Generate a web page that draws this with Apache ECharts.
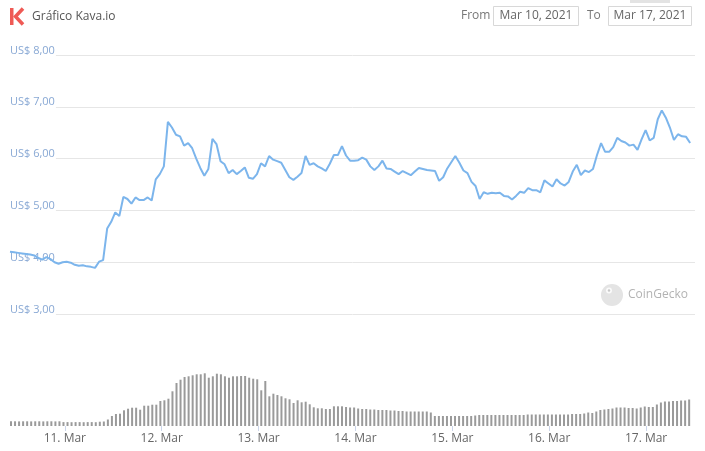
<!DOCTYPE html>
<html><head><meta charset="utf-8">
<script src="https://cdn.jsdelivr.net/npm/echarts@6/dist/echarts.min.js"></script>
<style>html,body{margin:0;padding:0;background:#fff}#c{width:705px;height:451px}</style>
</head><body><div id="c"></div>
<script>
const chartTitle = 'Gráfico Kava.io';
const fromLabel = 'From';
const toLabel = 'To';
const fromDate = 'Mar 10, 2021';
const toDate = 'Mar 17, 2021';
const watermark = 'CoinGecko';

// x-axis day tick labels (day of month -> label)
const dayLabels = {10:'10. Mar', 11:'11. Mar', 12:'12. Mar', 13:'13. Mar', 14:'14. Mar', 15:'15. Mar', 16:'16. Mar', 17:'17. Mar', 18:'18. Mar'};
// y-axis tick labels
const priceTickLabels = {3:'US$ 3,00', 4:'US$ 4,00', 5:'US$ 5,00', 6:'US$ 6,00', 7:'US$ 7,00', 8:'US$ 8,00'};

// hourly samples starting Mar 10, 2021 10:40
const startTime = new Date(2021, 2, 10, 10, 40).getTime();
const HOUR = 3600000;

// price in USD (hourly)
const price = [
4.20,4.19,4.18,4.17,4.16,4.15,4.13,4.08,4.05,4.10,
4.06,4.00,3.97,4.00,4.01,3.99,3.95,3.93,3.94,3.92,
3.91,3.89,4.01,4.04,4.65,4.78,4.96,4.89,5.26,5.22,
5.13,5.25,5.20,5.20,5.25,5.19,5.60,5.70,5.85,6.71,
6.60,6.46,6.43,6.25,6.30,6.20,6.00,5.82,5.67,5.80,
6.38,6.28,5.95,5.89,5.72,5.78,5.70,5.76,5.83,5.63,
5.61,5.70,5.91,5.85,6.05,5.98,5.95,5.92,5.78,5.64,
5.59,5.65,5.72,6.05,5.88,5.91,5.85,5.81,5.76,5.90,
6.07,6.07,6.24,6.06,5.96,5.96,5.97,6.02,5.98,5.85,
5.78,5.85,5.96,5.81,5.80,5.75,5.70,5.76,5.72,5.68,
5.75,5.82,5.80,5.78,5.77,5.76,5.57,5.64,5.81,5.93,
6.05,5.92,5.77,5.72,5.55,5.47,5.22,5.35,5.32,5.34,
5.33,5.34,5.28,5.27,5.21,5.28,5.36,5.34,5.43,5.39,
5.39,5.35,5.58,5.52,5.46,5.60,5.52,5.48,5.55,5.75,
5.88,5.68,5.77,5.74,5.80,6.07,6.30,6.13,6.13,6.22,
6.40,6.34,6.31,6.25,6.27,6.17,6.37,6.55,6.35,6.40,
6.76,6.93,6.79,6.60,6.36,6.47,6.43,6.42,6.30
];

// volume (relative units, hourly)
const volume = [
4.7,4.7,4.6,4.7,4.7,4.6,4.7,4.7,4.6,4.7,4.7,4.6,4.7,
3.9,3.9,3.8,3.9,3.9,3.8,3.9,3.9,3.8,
4.3,4.5,6.5,10,12,12.3,15.7,17.3,18.3,18.3,
16.3,20.3,20.3,21.3,21.3,25,25.7,27.3,34.7,43,
46.3,49,49.7,50.7,51.7,51.7,52.7,48.3,49.7,52.3,
51.7,49.7,48.3,49.7,49.7,50,50,48.3,47.3,46.7,
35.7,45,29.7,32.3,31,29.7,27.7,26.7,23,25.7,
23.7,24.3,21.7,18.7,17.7,17.7,17,17,19.7,19.7,
19.7,19,18.5,18.5,17.5,17,17,16.5,16.5,16,
16,16,15.5,15.5,15,15,
14.5,14.5,14.5,14.5,14.5,14.5,
13.5,
10,10,10,10,10,10,10,10,10,10,
10.5,
11,11,11,11,11,11,11,11,11,11,11,11,
11.5,11.5,11.5,11.5,11.5,11.5,11.5,11.5,11.5,11.5,11.5,
12,12,12,
12.5,13.5,13,14.5,16,16.5,17,17.5,18.5,18.5,
18.5,18,18,17.5,18.5,19.5,19,19,21.5,23.5,
24.5,24.5,25,25,25.5,25.5,26.5
];

const times = price.map((_, i) => startTime + i * HOUR);
const axisMin = startTime;
const axisMax = startTime + 169.2 * HOUR;

const FONT = '"Open Sans", "Noto Sans", sans-serif';
const chart = echarts.init(document.getElementById('c'), null, {renderer: 'canvas'});

chart.setOption({
  animation: false,
  backgroundColor: '#fff',
  textStyle: {fontFamily: FONT},
  grid: [
    {left: 10, right: 10, top: 55, height: 259},
    {left: 10, right: 10, top: 366, height: 60}
  ],
  xAxis: [
    {type: 'time', gridIndex: 0, min: axisMin, max: axisMax, show: false,
     minInterval: 24 * HOUR, maxInterval: 24 * HOUR},
    {type: 'time', gridIndex: 1, min: axisMin, max: axisMax,
     minInterval: 24 * HOUR, maxInterval: 24 * HOUR,
     axisLine: {show: false},
     axisTick: {show: true, length: 5, lineStyle: {color: '#ccd6eb'}},
     splitLine: {show: false},
     axisLabel: {show: true, color: '#666', fontSize: 12, fontFamily: FONT, margin: 7,
       showMinLabel: false, showMaxLabel: false,
       formatter: v => dayLabels[new Date(v).getDate()] || ''}}
  ],
  yAxis: [
    {type: 'value', gridIndex: 0, min: 3, max: 8, interval: 1, position: 'left',
     axisLine: {show: false}, axisTick: {show: false},
     splitLine: {show: true, lineStyle: {color: '#e6e6e6', width: 1}},
     axisLabel: {inside: true, margin: 0, align: 'left', verticalAlign: 'middle',
       backgroundColor: '#fff', padding: [0, 1, 0, 0],
       rich: {
         t: {color: '#88a8d4', fontSize: 11, fontFamily: FONT, lineHeight: 12},
         s: {fontSize: 1, lineHeight: 9}
       },
       formatter: v => '{t|' + (priceTickLabels[v] || '') + '}\n{s| }'}},
    {type: 'value', gridIndex: 1, min: 0, max: 60, show: false}
  ],
  series: [
    {type: 'bar', xAxisIndex: 1, yAxisIndex: 1, barWidth: 2,
     itemStyle: {color: '#9a9a9a'},
     data: times.map((t, i) => [t, volume[i]])},
    {type: 'line', xAxisIndex: 0, yAxisIndex: 0, showSymbol: false, z: 5,
     lineStyle: {color: '#7cb5ec', width: 2}, itemStyle: {color: '#7cb5ec'},
     data: times.map((t, i) => [t, price[i]])}
  ],
  graphic: [
    {type: 'rect', shape: {x: 10, y: 8, width: 3.5, height: 17}, style: {fill: '#ef5a55'}},
    {type: 'polyline', shape: {points: [[23, 8.5], [15.5, 16.5], [23, 24.5]]},
     style: {stroke: '#ef5a55', lineWidth: 3.5, fill: null}},
    {type: 'text', x: 32, y: 17, style: {text: chartTitle, font: '12px ' + FONT, fill: '#555', verticalAlign: 'middle'}},
    {type: 'rect', shape: {x: 630, y: 0, width: 40, height: 3}, style: {fill: '#e3e3e3'}},
    {type: 'text', x: 461, y: 16, style: {text: fromLabel, font: '12px ' + FONT, fill: '#777', verticalAlign: 'middle'}},
    {type: 'rect', shape: {x: 493.5, y: 6.5, width: 85, height: 19}, style: {fill: '#fff', stroke: '#d8d8d8', lineWidth: 1}},
    {type: 'text', x: 536, y: 16, style: {text: fromDate, font: '12px ' + FONT, fill: '#666', align: 'center', verticalAlign: 'middle'}},
    {type: 'text', x: 587, y: 16, style: {text: toLabel, font: '12px ' + FONT, fill: '#777', verticalAlign: 'middle'}},
    {type: 'rect', shape: {x: 608.5, y: 6.5, width: 83, height: 19}, style: {fill: '#fff', stroke: '#d8d8d8', lineWidth: 1}},
    {type: 'text', x: 650, y: 16, style: {text: toDate, font: '12px ' + FONT, fill: '#666', align: 'center', verticalAlign: 'middle'}},
    {type: 'circle', shape: {cx: 612, cy: 295, r: 11}, style: {fill: '#e4e4e4'}},
    {type: 'circle', shape: {cx: 609, cy: 290.5, r: 3}, style: {fill: '#fafafa'}},
    {type: 'circle', shape: {cx: 609, cy: 290.5, r: 1.2}, style: {fill: '#c8c8c8'}},
    {type: 'text', x: 628, y: 295, style: {text: watermark, font: '12px ' + FONT, fill: '#b3b3b3', verticalAlign: 'middle'}}
  ]
});
</script>
</body></html>
